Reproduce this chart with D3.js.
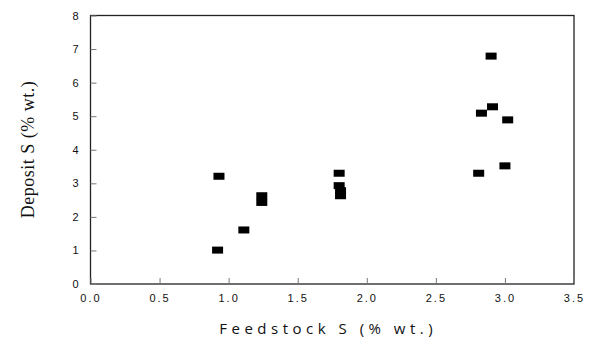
<!DOCTYPE html>
<html>
<head>
<meta charset="utf-8">
<script src="https://cdn.jsdelivr.net/npm/d3@7"></script>
<style>
  body { margin: 0; background: #fff; }
</style>
</head>
<body>
<script>
// feedstock sulphur vs deposit sulphur
var feedS    = [0.92, 0.93, 1.11, 1.24, 1.24, 1.80, 1.80, 1.81, 1.81, 2.81, 2.83, 2.90, 2.91, 3.00, 3.02];
var depositS = [1.01, 3.21, 1.61, 2.63, 2.43, 3.30, 2.93, 2.78, 2.63, 3.30, 5.09, 6.79, 5.28, 3.52, 4.89];
var xTicks = [0, 0.5, 1, 1.5, 2, 2.5, 3, 3.5];
var yTicks = [0, 1, 2, 3, 4, 5, 6, 7, 8];

var points = feedS.map(function(d, i) { return [d, depositS[i]]; });

var margin = {top: 15.5, right: 16, bottom: 60, left: 90.5};
var width = 590, height = 344;
var w = width - margin.left - margin.right;
var h = height - margin.top - margin.bottom;

var svg = d3.select("body")
            .append("svg")
            .attr("width", width)
            .attr("height", height);

var g = svg.append("g")
           .attr("transform", "translate(" + margin.left + "," + margin.top + ")");

var xScale = d3.scaleLinear().domain([0, 3.5]).range([0, w]);
var yScale = d3.scaleLinear().domain([0, 8]).range([h, 0]);

// frame
g.append("rect")
 .attr("width", w)
 .attr("height", h)
 .attr("fill", "none")
 .attr("stroke", "#222")
 .attr("stroke-width", 1.3);

// y axis, ticks inside
var yAxis = d3.axisLeft(yScale)
              .tickValues(yTicks)
              .tickFormat(d3.format("d"))
              .tickSize(-6)
              .tickPadding(12);
var yGuide = g.append("g").call(yAxis);
yGuide.select(".domain").remove();
yGuide.selectAll("line").attr("stroke", "#777");
yGuide.selectAll("text")
      .attr("font-family", "Liberation Sans, Arial, sans-serif")
      .attr("font-size", "11px")
      .attr("fill", "#111");

// x axis, ticks inside
var xAxis = d3.axisBottom(xScale)
              .tickValues(xTicks)
              .tickFormat(d3.format(".1f"))
              .tickSize(-6)
              .tickPadding(10);
var xGuide = g.append("g").attr("transform", "translate(0," + h + ")").call(xAxis);
xGuide.select(".domain").remove();
xGuide.selectAll("line").attr("stroke", "#777");
xGuide.selectAll("text")
      .attr("font-family", "Liberation Sans, Arial, sans-serif")
      .attr("font-size", "11px")
      .attr("letter-spacing", "2px")
      .attr("fill", "#111");

// markers
g.selectAll("rect.pt")
 .data(points)
 .enter()
 .append("rect")
 .attr("class", "pt")
 .attr("x", function(d) { return xScale(d[0]) - 5.5; })
 .attr("y", function(d) { return yScale(d[1]) - 3.5; })
 .attr("width", 11)
 .attr("height", 7)
 .attr("fill", "#000");

// axis titles
svg.append("text")
   .attr("x", margin.left + w / 2 - 4)
   .attr("y", 334)
   .attr("text-anchor", "middle")
   .attr("font-family", "Open Sans, sans-serif")
   .attr("font-size", "15px")
   .attr("letter-spacing", "4.5px")
   .attr("fill", "#111")
   .text("Feedstock S (% wt.)");

svg.append("text")
   .attr("transform", "translate(34," + (margin.top + 134) + ") rotate(-90)")
   .attr("text-anchor", "middle")
   .attr("font-family", "Liberation Serif, serif")
   .attr("font-size", "18px")
   .attr("letter-spacing", "0.5px")
   .attr("fill", "#111")
   .text("Deposit S (% wt.)");
</script>
</body>
</html>
